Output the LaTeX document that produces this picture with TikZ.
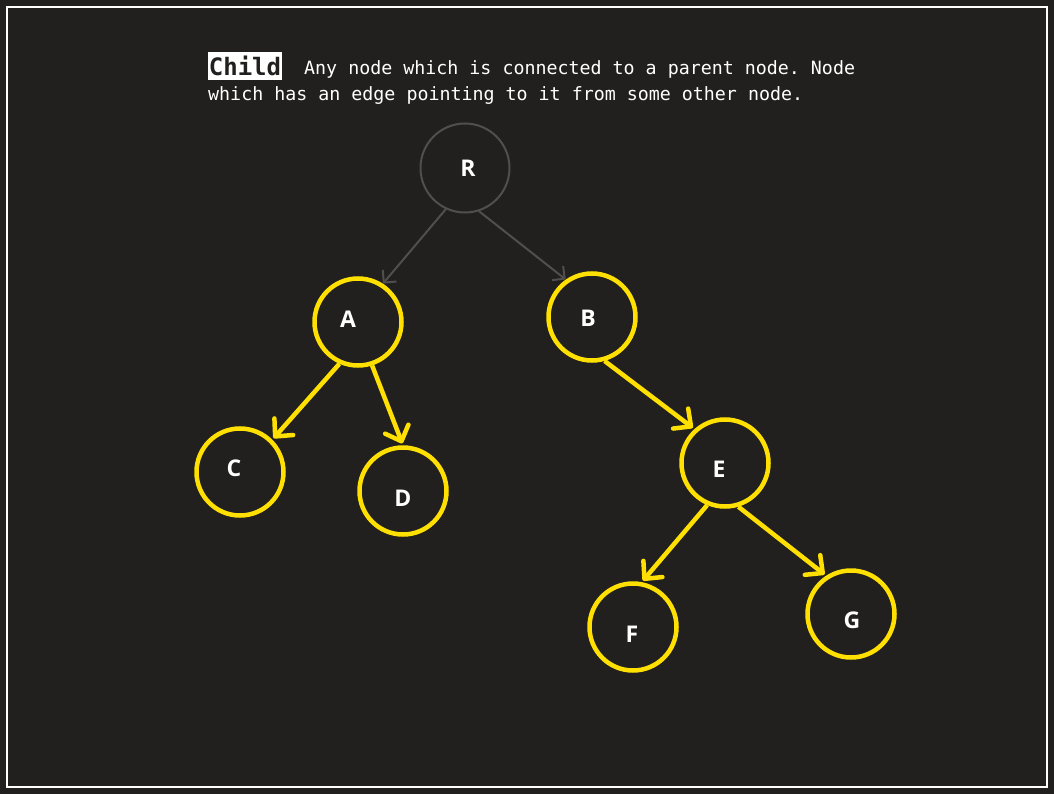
\documentclass[tikz,border=0pt]{standalone}
\usepackage{fontspec}
\setsansfont{Open Sans}
\setmonofont{DejaVu Sans Mono}
\usetikzlibrary{arrows.meta}
\definecolor{bgdark}{HTML}{21201F}
\definecolor{treeyellow}{HTML}{FFE000}
\definecolor{rootgray}{HTML}{504F4E}

\begin{document}
\begin{tikzpicture}[x=1pt,y=-1pt]
	    \tikzstyle{every node}+=[inner sep=0pt]
	    \tikzstyle{every label}=[text=white, font=\sffamily\bfseries\fontsize{23}{26}\selectfont]
	    \tikzstyle{vert}=[circle, minimum size=87pt, draw=treeyellow, line width=4.5pt]
	    \tikzstyle{rootvert}=[vert, minimum size=89pt, draw=rootgray, line width=2pt]
	    \tikzstyle{childedge}=[treeyellow, line width=4.5pt, -{Straight Barb[length=13pt,width=25pt,line width=4.5pt,round]}, shorten >=2pt]
	    \tikzstyle{rootedge}=[rootgray, line width=2pt, -{Straight Barb[length=9pt,width=18pt]}]
	    \tikzstyle{caption}=[anchor=base west, text=white, font=\ttfamily\fontsize{18.3}{22}\selectfont]
	    % frame
	    \fill [bgdark] (0,0) rectangle (1054,794);
	    \draw [white, line width=2pt] (7,7) rectangle (1047,787);
	    % heading
	    \node (term) [fill=white, text=bgdark, minimum width=74pt, minimum height=28pt, font=\ttfamily\bfseries\fontsize{24}{26}\selectfont] at (245,66) {Child};
	    \node (line1) [caption] at (304,75) {Any node which is connected to a parent node. Node};
	    \node (line2) [caption] at (208,101) {which has an edge pointing to it from some other node.};
	    % tree
	    \node (R) [rootvert, label={[xshift=3pt]center:R}] at (465,168) {};
	    \node (A) [vert, label={[xshift=-10pt,yshift=3pt]center:A}] at (358,322) {};
	    \node (B) [vert, label={[xshift=-4pt,yshift=-1pt]center:B}] at (592,317) {};
	    \node (C) [vert, label={[xshift=-6pt,yshift=4pt]center:C}] at (240,472) {};
	    \node (D) [vert, label={[yshift=-7pt]center:D}] at (403,491) {};
	    \node (E) [vert, label={[xshift=-6pt,yshift=-6pt]center:E}] at (725,463) {};
	    \node (F) [vert, label={[xshift=-1pt,yshift=-7pt]center:F}] at (633,627) {};
	    \node (G) [vert, label={[xshift=1pt,yshift=-6pt]center:G}] at (851,614) {};
	    \draw [rootedge] (R.245) -- (A.57);
	    \draw [rootedge] (R.288) -- (B.125);
	    \draw [childedge] (A.246) -- (C.45);
	    \draw [childedge] (A.288) -- (D.90);
	    \draw [childedge] (B.286) -- (E.132);
	    \draw [childedge] (E.247) -- (F.79);
	    \draw [childedge] (E.287) -- (G.123);
    \end{tikzpicture}
\end{document}
